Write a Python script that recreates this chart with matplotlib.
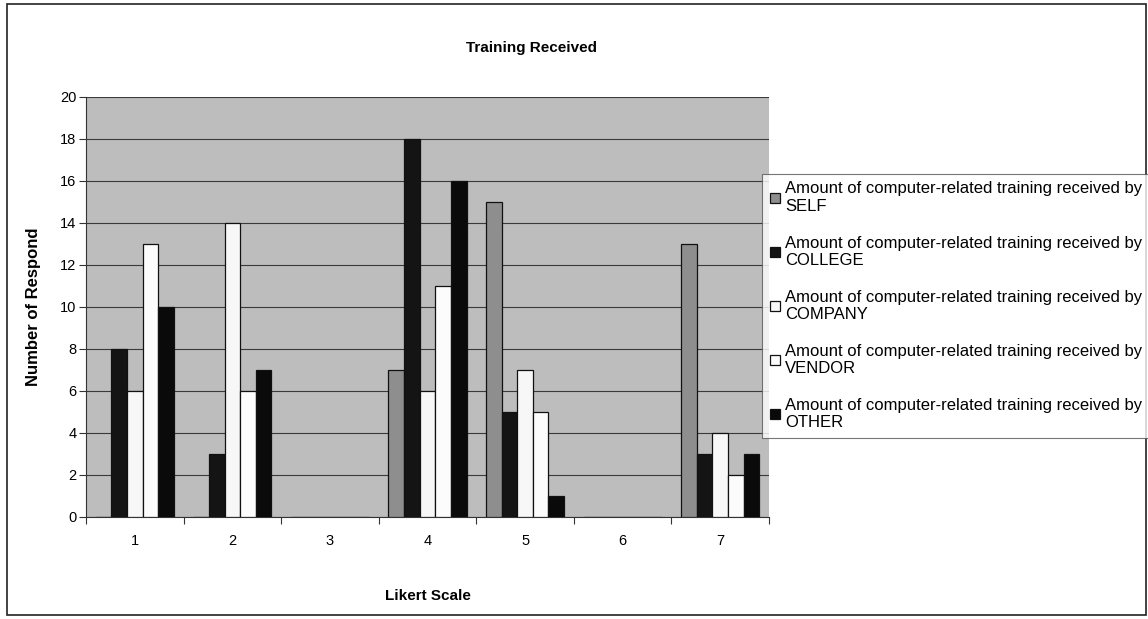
import matplotlib
matplotlib.use("Agg")
import matplotlib.pyplot as plt
import numpy as np
from matplotlib.patches import Rectangle

plt.rcParams['font.family'] = ['Liberation Sans', 'DejaVu Sans']

# Likert scale responses per training source
categories = ["1", "2", "3", "4", "5", "6", "7"]
self_vals = [0, 0, 0, 7, 15, 0, 13]
college_vals = [8, 3, 0, 18, 5, 0, 3]
company_vals = [6, 14, 0, 6, 7, 0, 4]
vendor_vals = [13, 6, 0, 11, 5, 0, 2]
other_vals = [10, 7, 0, 16, 1, 0, 3]

series_names = ["SELF", "COLLEGE", "COMPANY", "VENDOR", "OTHER"]
series_vals = [self_vals, college_vals, company_vals, vendor_vals, other_vals]
face_colors = ["#8e8e8e", "#141414", "#f7f7f7", "#fcfcfc", "#0a0a0a"]

W, H = 1148, 619
fig = plt.figure(figsize=(W / 100, H / 100), dpi=100)
fig.patch.set_facecolor("white")

# outer chart border
fig.add_artist(Rectangle((7 / W, 4 / H), 1139 / W, 611 / H,
                         transform=fig.transFigure, fill=False,
                         edgecolor="#222222", linewidth=1.2))

ax = fig.add_axes([86 / W, 1 - 517 / H, 683 / W, 420 / H])
ax.set_facecolor("#bdbdbd")

x = np.arange(len(categories))
bar_w = 0.16
for i, (name, vals, fc) in enumerate(zip(series_names, series_vals, face_colors)):
    offs = (i - 2) * bar_w
    ax.bar(x + offs, vals, width=bar_w, color=fc, edgecolor="#111111",
           linewidth=0.9, zorder=3,
           label="Amount of computer-related training received by\n" + name)

ax.set_xlim(-0.5, len(categories) - 0.5)
ax.set_ylim(0, 20)
ax.set_yticks(range(0, 21, 2))
ax.yaxis.grid(True, color="#3a3a3a", linewidth=0.8, zorder=1)
ax.set_axisbelow(True)

# category labels centred, tick marks on the category boundaries
ax.set_xticks(x)
ax.set_xticklabels(categories, fontsize=10.5)
ax.set_xticks(np.arange(-0.5, len(categories), 1), minor=True)
ax.tick_params(axis="x", which="major", length=0, pad=12)
ax.tick_params(axis="x", which="minor", length=5, width=0.8, color="#333333")
ax.tick_params(axis="y", length=5, width=0.8, color="#333333", labelsize=10.5, pad=2)

for side in ["top", "right"]:
    ax.spines[side].set_visible(False)
ax.spines["left"].set_color("#333333")
ax.spines["bottom"].set_color("#333333")

ax.set_xlabel("Likert Scale", fontsize=11, fontweight="bold", labelpad=30)
ax.set_ylabel("Number of Respond", fontsize=12, fontweight="bold")
ax.yaxis.set_label_coords((41 - 86) / 683, 0.5)

fig.text(531 / W, 1 - 48 / H, "Training Received", ha="center", va="center",
         fontsize=11, fontweight="bold")

leg = fig.legend(loc="upper left", bbox_to_anchor=(762 / W, 1 - 174 / H),
                 bbox_transform=fig.transFigure, fontsize=12,
                 handlelength=0.6, handleheight=0.6, handletextpad=0.35,
                 labelspacing=1.3, borderpad=0.45, borderaxespad=0,
                 fancybox=False, frameon=True)
leg.get_frame().set_edgecolor("#555555")
leg.get_frame().set_linewidth(0.8)

fig.savefig("out.png", dpi=100, facecolor="white")
